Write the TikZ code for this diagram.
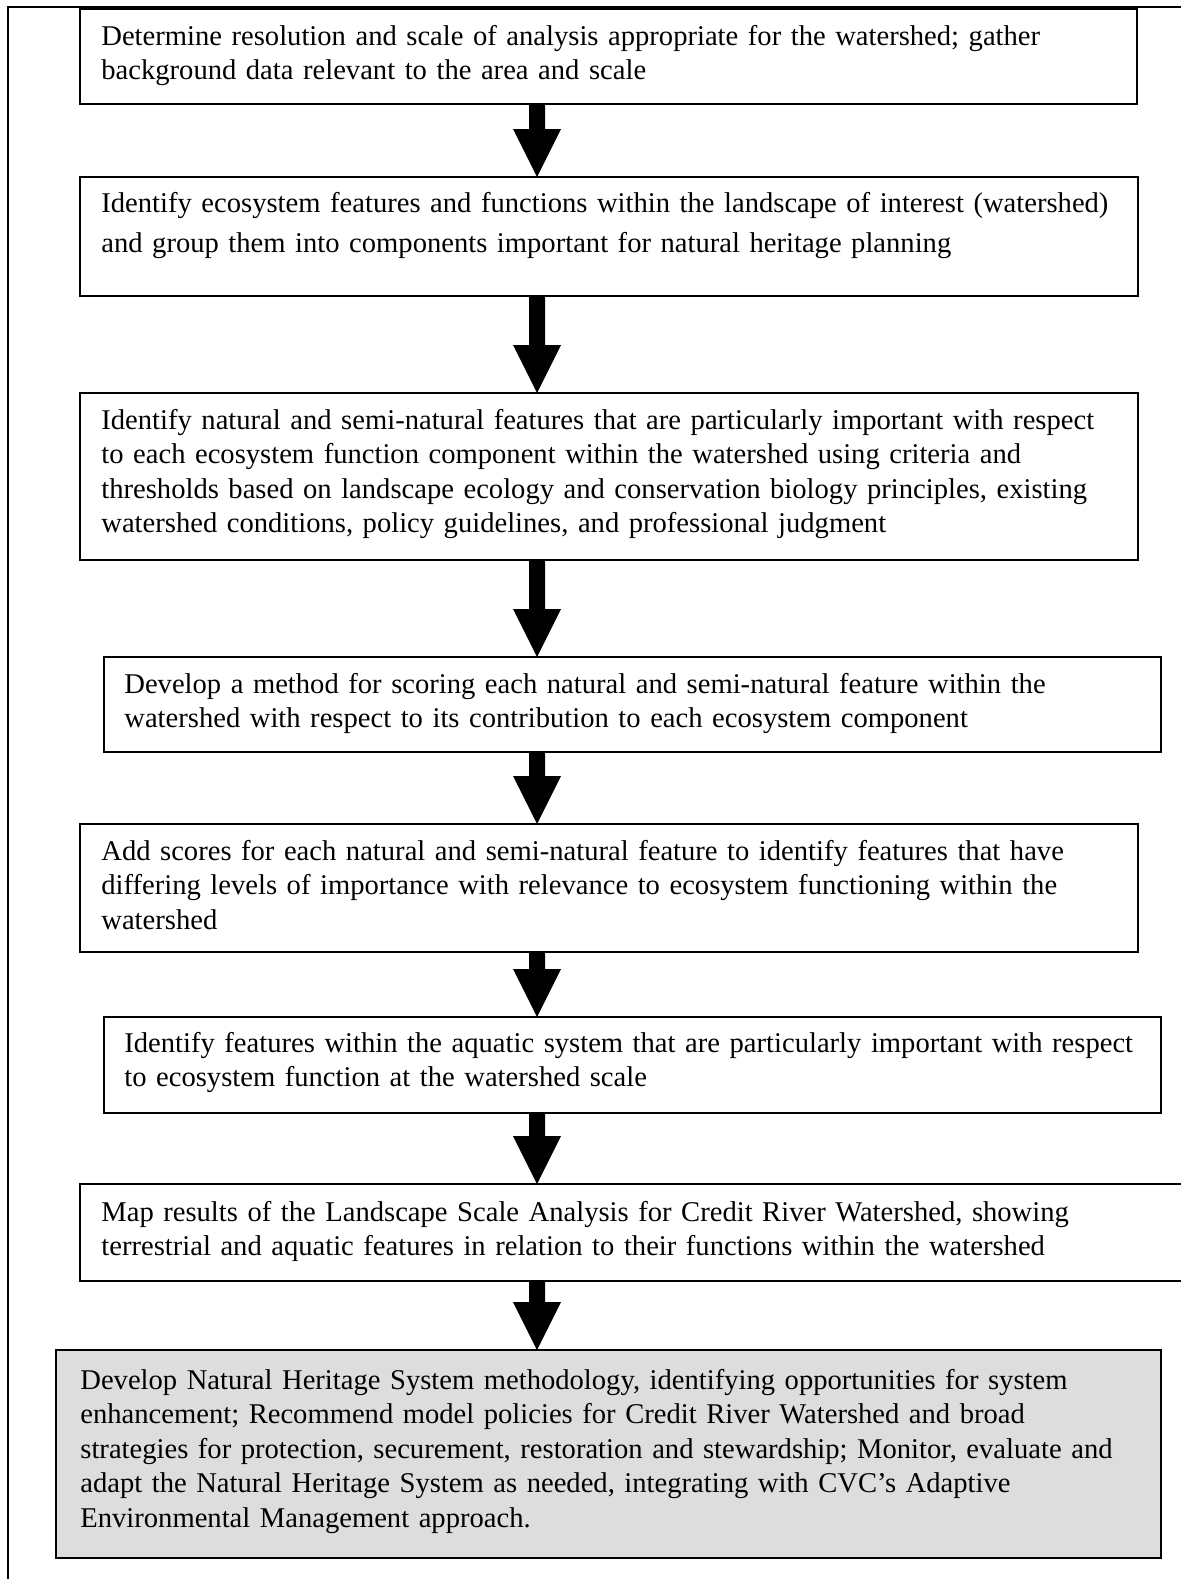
\documentclass[tikz,border=0pt]{standalone}
\usepackage{fontspec}
\setmainfont{Liberation Serif}
\usetikzlibrary{calc}
\begin{document}
\begin{tikzpicture}[x=0.5pt,y=-0.5pt,
  box/.style={draw=black, line width=1pt, inner sep=0pt, outer sep=0pt, anchor=north west},
  txt/.style={anchor=base west, inner sep=0pt, align=left, font=\fontsize{14.3pt}{17.3pt}\selectfont},
  txtwide/.style={anchor=base west, inner sep=0pt, align=left, font=\fontsize{14.3pt}{20pt}\selectfont},
  frameline/.style={draw=black, line width=1.3pt},
  arrowfill/.style={fill=black}]
\useasboundingbox (0,0) rectangle (1180,1579);
% outer frame (cropped at right and bottom)
\draw[frameline] (8,1600) -- (8,7) -- (1200,7);
% boxes
\node[box, minimum width=528.5pt, minimum height=47.5pt] (b1) at (80,9) {};
\node[box, minimum width=529pt, minimum height=59.5pt] (b2) at (80,177) {};
\node[box, minimum width=529pt, minimum height=83.5pt] (b3) at (80,393) {};
\node[box, minimum width=528.5pt, minimum height=47.5pt] (b4) at (104,657) {};
\node[box, minimum width=529pt, minimum height=64pt] (b5) at (80,824) {};
\node[box, minimum width=528.5pt, minimum height=48pt] (b6) at (104,1017) {};
\node[box, minimum width=555pt, minimum height=48.5pt] (b7) at (80,1184) {};
\node[box, fill={rgb,255:red,221;green,221;blue,221}, line width=1.2pt, minimum width=552.5pt, minimum height=104pt] (b8) at (56,1350) {};
% texts
\node[txt, text width=520pt] (t1) at (101,45) {Determine resolution and scale of analysis appropriate for the watershed; gather\\background data relevant to the area and scale};
\node[txtwide, text width=520pt] (t2) at (101,212) {Identify ecosystem features and functions within the landscape of interest (watershed)\\and group them into components important for natural heritage planning};
\node[txt, text width=520pt] (t3) at (101,429) {Identify natural and semi-natural features that are particularly important with respect\\to each ecosystem function component within the watershed using criteria and\\thresholds based on landscape ecology and conservation biology principles, existing\\watershed conditions, policy guidelines, and professional judgment};
\node[txt, text width=520pt] (t4) at (124,693) {Develop a method for scoring each natural and semi-natural feature within the\\watershed with respect to its contribution to each ecosystem component};
\node[txt, text width=520pt] (t5) at (101,860) {Add scores for each natural and semi-natural feature to identify features that have\\differing levels of importance with relevance to ecosystem functioning within the\\watershed};
\node[txt, text width=520pt] (t6) at (124,1052) {Identify features within the aquatic system that are particularly important with respect\\to ecosystem function at the watershed scale};
\node[txt, text width=535pt] (t7) at (101,1221) {Map results of the Landscape Scale Analysis for Credit River Watershed, showing\\terrestrial and aquatic features in relation to their functions within the watershed};
\node[txt, text width=538pt] (t8) at (80,1389) {Develop Natural Heritage System methodology, identifying opportunities for system\\enhancement; Recommend model policies for Credit River Watershed and broad\\strategies for protection, securement, restoration and stewardship; Monitor, evaluate and\\adapt the Natural Heritage System as needed, integrating with CVC’s Adaptive\\Environmental Management approach.};
% block arrows
\coordinate (ax) at (537,0);
\foreach \a/\b in {b1/b2,b2/b3,b3/b4,b4/b5,b5/b6,b6/b7,b7/b8}{
  \fill[arrowfill] ($(ax|-\a.south)+(-8,0)$) -- ($(ax|-\a.south)+(8,0)$)
    -- ($(ax|-\b.north)+(8,-48)$) -- ($(ax|-\b.north)+(24,-48)$)
    -- (ax|-\b.north) -- ($(ax|-\b.north)+(-24,-48)$)
    -- ($(ax|-\b.north)+(-8,-48)$) -- cycle;
}
\end{tikzpicture}
\end{document}
